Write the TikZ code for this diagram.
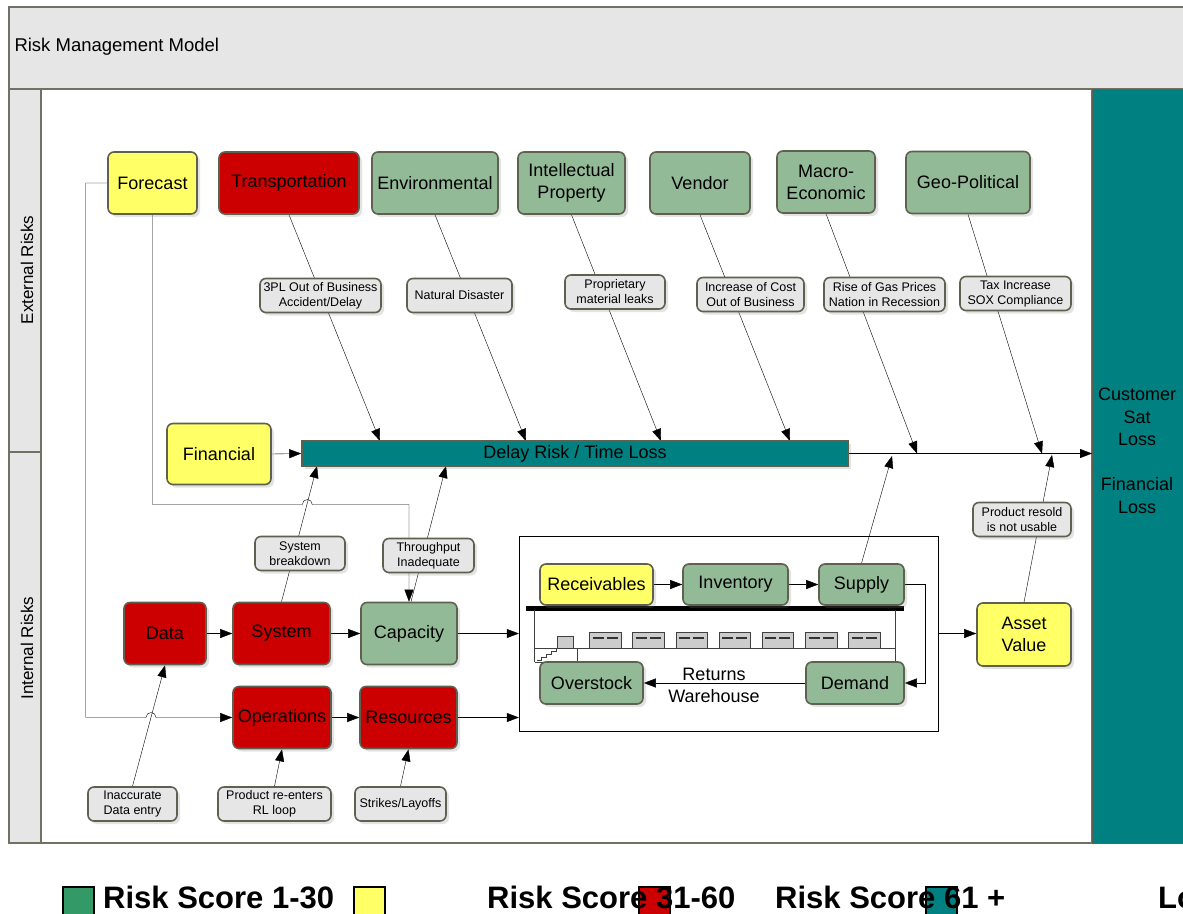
\documentclass[tikz,border=0pt]{standalone}
\usepackage{fontspec}
\setmainfont{Liberation Sans}
\usetikzlibrary{positioning,arrows.meta,calc,shadows,backgrounds}

\definecolor{riskgreen}{RGB}{147,186,150}
\definecolor{riskyellow}{RGB}{255,255,102}
\definecolor{riskred}{RGB}{204,0,0}
\definecolor{riskteal}{RGB}{0,128,128}
\definecolor{notegray}{RGB}{230,230,230}
\definecolor{boxedge}{RGB}{96,96,80}
\definecolor{framegray}{RGB}{112,112,100}
\definecolor{keygreen}{RGB}{51,153,102}

% frames and lanes go below the connectors
\pgfdeclarelayer{framelayer}
\pgfsetlayers{framelayer,background,main}

\begin{document}
\begin{tikzpicture}[
  x=1pt, y=-1pt,
  font=\fontsize{18}{22}\selectfont,
  line width=1.1pt,
  >={Triangle[length=12pt,width=9pt]},
  box/.style={
    draw=boxedge, line width=1.6pt, rounded corners=6pt, inner sep=0pt,
    minimum height=62pt, align=center,
    drop shadow={opacity=0.22, shadow xshift=3pt, shadow yshift=-3pt}
  },
  low/.style={box, fill=riskgreen},
  mid/.style={box, fill=riskyellow},
  high/.style={box, fill=riskred},
  note/.style={box, fill=notegray, minimum height=34pt,
    font=\fontsize{12.5}{15}\selectfont},
  lane/.style={draw=framegray, line width=1.2pt, fill=notegray},
  lanetext/.style={rotate=90, font=\fontsize{17}{20}\selectfont},
  key/.style={draw=black, line width=1.5pt, minimum width=31pt,
    minimum height=30pt, inner sep=0pt, anchor=north west},
  keytext/.style={anchor=base west, inner sep=0pt,
    font=\fontsize{31}{31}\selectfont\bfseries}
]
  \useasboundingbox (0,0) rectangle (1183,913);

  \begin{pgfonlayer}{framelayer}
    \fill[white] (0,0) rectangle (1183,913);
    % header and swim lanes
    \draw[lane] (9,7) rectangle (1195,89);
    \node[anchor=west, font=\fontsize{18.5}{22}\selectfont] (title) at (11,47) {Risk Management Model};
    \draw[draw=framegray, line width=1.2pt, fill=white] (41,89) rectangle (1092,843);
    \draw[lane] (9,89) rectangle (41,452);
    \draw[lane] (9,452) rectangle (41,843);
    \node[lanetext] (ext) at (27,270) {External Risks};
    \node[lanetext] (int) at (27,648) {Internal Risks};

    \node[draw=boxedge, line width=1.2pt, fill=riskteal, anchor=north west,
          minimum width=110pt, minimum height=754pt, inner sep=0pt] (loss) at (1092,89) {};
    \node[align=center, font=\fontsize{18}{22.5}\selectfont] (losstext) at (1137,451)
          {Customer\\Sat\\Loss\\[22.5pt]Financial\\Loss};

    % returns warehouse
    \node[draw=black, line width=1pt, fill=white, inner sep=0pt,
          minimum width=419pt, minimum height=195pt] (wh) at (728.8,633.5) {};
    \fill[black] (526,605.5) rectangle (904,610.5);
    \draw[black!75, line width=0.8pt] (534.5,610) -- (534.5,662) (895.5,610) -- (895.5,662)
          (534.5,648) -- (895.5,648) (534.5,662) -| (577,648);
    \draw[black!75, line width=0.6pt] (537,660) -- ++(4,0) -- ++(0,-3) -- ++(5,0)
          -- ++(0,-3) -- ++(5,0) -- ++(0,-3) -- ++(5,0) -- ++(0,-3);
    \draw[black!75, fill=black!20, line width=0.8pt] (557.5,636) rectangle (573.5,648);
    \foreach \i in {0,...,6} {
      \draw[black!75, fill=black!20, line width=0.8pt] ({589.5+43.2*\i},632) rectangle ++(31.5,16);
      \draw[black!80, line width=2pt] ({592.5+43.2*\i},637.5) -- ++(11,0) ++(3,0) -- ++(11,0);
    }
  \end{pgfonlayer}

  % external risks
  \node[mid,  minimum width=89pt]  (fc)    at (152.5,183) {Forecast};
  \node[high, minimum width=140pt] (trans) at (289,183)   {Transportation};
  \node[low,  minimum width=126pt] (env)   at (435,183)   {Environmental};
  \node[low,  minimum width=107pt] (ip)    at (571.5,183) {Intellectual\\Property};
  \node[low,  minimum width=100pt] (vend)  at (700,183)   {Vendor};
  \node[low,  minimum width=98pt]  (macro) at (826,182)   {Macro-\\Economic};
  \node[low,  minimum width=124pt] (geo)   at (968,182.5) {Geo-Political};

  \node[note, minimum width=121pt] (c3pl)  at (320.5,295.5) {3PL Out of Business\\Accident/Delay};
  \node[note, minimum width=105pt] (cnat)  at (459.5,295.5) {Natural Disaster};
  \node[note, minimum width=100pt] (cprop) at (615,292)     {Proprietary\\material leaks};
  \node[note, minimum width=107pt] (ccost) at (750.5,294.5) {Increase of Cost\\Out of Business};
  \node[note, minimum width=121pt] (cgas)  at (884.5,294.5) {Rise of Gas Prices\\Nation in Recession};
  \node[note, minimum width=111pt] (ctax)  at (1015.5,293.5) {Tax Increase\\SOX Compliance};

  \node[mid, minimum width=104pt, minimum height=61pt] (fin) at (219,454) {Financial};
  \node[box, fill=riskteal, rounded corners=0pt, minimum width=546pt,
        minimum height=25pt] (delay) at (575,453.5) {Delay Risk / Time Loss};

  % internal risks
  \node[high, minimum width=82pt] (data) at (165,633.5)   {Data};
  \node[high, minimum width=97pt] (sys)  at (281.5,633.5) {System};
  \node[low,  minimum width=96pt] (cap)  at (409,633.5)   {Capacity};
  \node[high, minimum width=98pt] (ops)  at (282,717.5)   {Operations};
  \node[high, minimum width=97pt] (res)  at (408.5,717.5) {Resources};

  \node[note, minimum width=90pt]  (cbreak)  at (300,553.5)  {System\\breakdown};
  \node[note, minimum width=91pt]  (cthru)   at (428.5,555.5) {Throughput\\Inadequate};
  \node[note, minimum width=89pt]  (cdata)   at (132.5,804)  {Inaccurate\\Data entry};
  \node[note, minimum width=113pt] (cloop)   at (274.5,804)  {Product re-enters\\RL loop};
  \node[note, minimum width=91pt]  (cstrike) at (400.5,804)  {Strikes/Layoffs};

  \node[mid, minimum width=113pt, minimum height=41pt] (recv) at (596.5,584.5) {Receivables};
  \node[low, minimum width=105pt, minimum height=41pt] (inv)  at (735.5,584.5) {Inventory};
  \node[low, minimum width=85pt,  minimum height=41pt] (sup)  at (861.5,584.5) {Supply};
  \node[low, minimum width=103pt, minimum height=42pt] (over) at (591.5,683)   {Overstock};
  \node[low, minimum width=98pt,  minimum height=42pt] (dem)  at (855,683)     {Demand};
  \node[align=center] (returns) at (714,685.5) {Returns\\Warehouse};

  \node[mid, minimum width=94pt, minimum height=63pt] (asset) at (1024,634.5) {Asset\\Value};
  \node[note, minimum width=98pt] (cresold) at (1022,519.5) {Product resold\\is not usable};

  % where the arrows meet the delay line
  \coordinate (onTrans) at (380,441);
  \coordinate (onEnv)   at (526,441);
  \coordinate (onIP)    at (661,441);
  \coordinate (onVend)  at (790,441);
  \coordinate (onMacro) at (917,453.5);
  \coordinate (onGeo)   at (1042,453.5);
  \coordinate (onSys)   at (317,466);
  \coordinate (onCap)   at (446,466);
  \coordinate (onSup)   at (892,456);
  \coordinate (onAsset) at (1052,455);
  \coordinate (hopA)    at (146,717.5);
  \coordinate (hopB)    at (302.3,504.5);

  \begin{pgfonlayer}{background}
    \draw[->] (trans.south) -- (onTrans);
    \draw[->] (env.south)   -- (onEnv);
    \draw[->] (ip.south)    -- (onIP);
    \draw[->] (vend.south)  -- (onVend);
    \draw[->] (macro.south) -- (onMacro);
    \draw[->] (geo.south)   -- (onGeo);

    \draw[->] (fin.east) -- (delay.west);
    \draw[->] (delay.east) -- (loss.west |- delay.east);

    \draw[->] (fc.west) -- ++(-21.5,0) |- (hopA)
      arc[start angle=180, end angle=0, radius=5pt] -- (ops.west);
    \draw[->] (fc.south) |- (hopB)
      arc[start angle=180, end angle=0, radius=5pt] -- (cap.north |- hopB) -- (cap.north);

    \draw[->] (sys.north) -- (onSys);
    \draw[->] ([xshift=2pt]cap.north) -- (onCap);
    \draw[->] (cdata.north) -- (data.south);
    \draw[->] (cloop.north) -- (ops.south);
    \draw[->] (cstrike.north) -- (res.south);

    \draw[->] (data) -- (sys);
    \draw[->] (sys) -- (cap);
    \draw[->] (ops) -- (res);
    \draw[->] (cap.east) -- (wh.west |- cap.east);
    \draw[->] (res.east) -- (wh.west |- res.east);

    \draw[->] (recv) -- (inv);
    \draw[->] (inv) -- (sup);
    \draw[->] (sup.east) -- ++(20,0) |- (dem.east);
    \draw[->] (dem) -- (over);
    \draw[->] (sup.north) -- (onSup);

    \draw[->] (wh.east) -- (asset.west |- wh.east);
    \draw[->] (asset.north) -- (onAsset);
  \end{pgfonlayer}

  % legend
  \node[key, fill=keygreen]   (key1) at (62,886)  {};
  \node[keytext]              (txt1) at (103,908) {Risk Score 1-30};
  \node[key, fill=riskyellow] (key2) at (353,886) {};
  \node[key, fill=riskred]    (key3) at (638,886) {};
  \node[keytext]              (txt2) at (487,908) {Risk Score 31-60};
  \node[key, fill=riskteal]   (key4) at (925,886) {};
  \node[keytext]              (txt3) at (775,908) {Risk Score 61 +};
  \node[keytext]              (txt4) at (1158,908) {Lo};
\end{tikzpicture}
\end{document}
